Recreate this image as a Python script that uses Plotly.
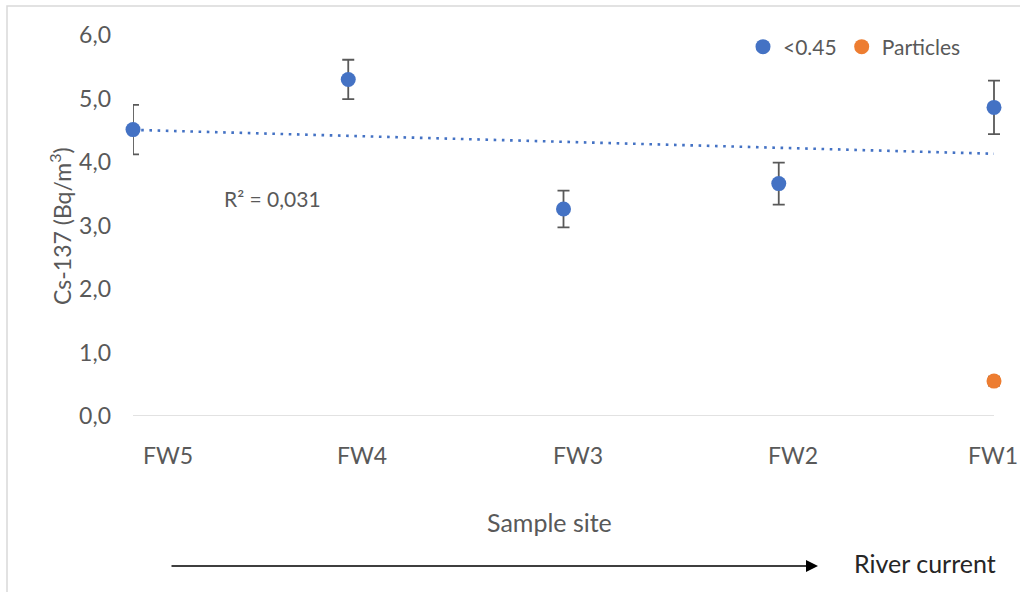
import numpy as np
import plotly.graph_objects as go

# Sampling sites, ordered downstream along the river
sites = ["FW5", "FW4", "FW3", "FW2", "FW1"]

# Cs-137 activity in the <0.45 µm fraction (Bq/m³) and its uncertainty
dissolved = [4.51, 5.30, 3.26, 3.66, 4.86]
dissolved_err = [0.39, 0.31, 0.29, 0.33, 0.42]

# Cs-137 bound to particles, measured at FW1 only
particle_sites = ["FW1"]
particles = [0.55]
particles_err = [0.07]

y_ticks = [0, 1, 2, 3, 4, 5, 6]
y_tick_text = ["0,0", "1,0", "2,0", "3,0", "4,0", "5,0", "6,0"]

BLUE = "#4472C4"
ORANGE = "#ED7D31"
TEXT = "#595959"
FONT = "Lato"

xpos = {s: i for i, s in enumerate(sites)}
x_d = np.array([xpos[s] for s in sites], dtype=float)
x_p = np.array([xpos[s] for s in particle_sites], dtype=float)

# Linear trend of the dissolved fraction and its R²
slope, intercept = np.polyfit(x_d, dissolved, 1)
fit = slope * x_d + intercept
resid = np.array(dissolved) - fit
r2 = 1 - np.sum(resid ** 2) / np.sum((np.array(dissolved) - np.mean(dissolved)) ** 2)
r2_text = f"R² = {r2:.3f}".replace(".", ",")

fig = go.Figure()

# Trend line
fig.add_trace(go.Scatter(
    x=[x_d[0], x_d[-1]], y=[fit[0], fit[-1]], mode="lines",
    line=dict(color=BLUE, width=2.6, dash="2.6px,5.6px"),
    showlegend=False, hoverinfo="skip",
))

# Error bars
err_style = dict(type="data", color=TEXT, thickness=1.8, width=6)
fig.add_trace(go.Scatter(
    x=x_d, y=dissolved, mode="markers", marker=dict(size=1, opacity=0),
    error_y=dict(array=dissolved_err, **err_style),
    showlegend=False, hoverinfo="skip",
))
fig.add_trace(go.Scatter(
    x=x_p, y=particles, mode="markers", marker=dict(size=1, opacity=0),
    error_y=dict(array=particles_err, **err_style),
    showlegend=False, hoverinfo="skip",
))

# Data points
fig.add_trace(go.Scatter(
    x=x_d, y=dissolved, mode="markers", name="<0.45",
    marker=dict(color=BLUE, size=15), cliponaxis=False,
))
fig.add_trace(go.Scatter(
    x=x_p, y=particles, mode="markers", name="Particles",
    marker=dict(color=ORANGE, size=15), cliponaxis=False,
))

L, R, T, B = 133, 20, 35, 176
W, H = 1020, 592
pw, ph = W - L - R, H - T - B
x_max = (len(sites) - 1) * pw / 861.0


def px_x(p):
    return (p - L) / pw


def px_y(p):
    return (H - B - p) / ph


# Category labels sit a little to the right of their site
label_shift = [35, 14, 14, 14, -1]
site_labels = [
    dict(text=s, xref="x", yref="paper", x=xpos[s], y=px_y(455), xshift=dx,
         xanchor="center", yanchor="middle", showarrow=False,
         font=dict(size=23, color=TEXT))
    for s, dx in zip(sites, label_shift)
]

fig.update_layout(
    width=W, height=H,
    margin=dict(l=L, r=R, t=T, b=B, autoexpand=False),
    paper_bgcolor="white", plot_bgcolor="white",
    font=dict(family=FONT, color=TEXT, size=21),
    showlegend=True,
    legend=dict(
        orientation="h", x=px_x(743), y=px_y(47), xanchor="left", yanchor="middle",
        font=dict(size=21, color=TEXT), bgcolor="rgba(0,0,0,0)",
        itemwidth=30, tracegroupgap=0,
    ),
    xaxis=dict(
        range=[0, x_max], tickmode="array",
        tickvals=list(range(len(sites))), ticktext=sites, showticklabels=False,
        showgrid=False, zeroline=False, showline=False, ticks="",
        fixedrange=True,
    ),
    yaxis=dict(
        range=[0, 6], tickmode="array", tickvals=y_ticks, ticktext=y_tick_text,
        showgrid=False, zeroline=False, showline=False, ticks="",
        tickfont=dict(size=23, color=TEXT), ticklabelstandoff=21,
        fixedrange=True,
    ),
    shapes=[
        # horizontal baseline at zero between the first and last site
        dict(type="line", xref="x", yref="y", x0=0, x1=len(sites) - 1, y0=0, y1=0,
             line=dict(color="#D9D9D9", width=1.5), layer="below"),
        # chart frame
        dict(type="rect", xref="paper", yref="paper",
             x0=px_x(7), x1=px_x(1040), y0=px_y(620), y1=px_y(6),
             line=dict(color="#D9D9D9", width=1.5), layer="below"),
    ],
    annotations=site_labels + [
        dict(text="Cs-137 (Bq/m<sup>3</sup>)", xref="paper", yref="paper",
             x=px_x(61), y=px_y(226), xanchor="center", yanchor="middle",
             textangle=-90, showarrow=False, font=dict(size=23, color=TEXT)),
        dict(text=r2_text, xref="paper", yref="paper", x=px_x(222), y=px_y(198),
             xanchor="left", yanchor="middle", showarrow=False,
             font=dict(size=21, color=TEXT)),
        dict(text="Sample site", xref="paper", yref="paper", x=px_x(549), y=px_y(522),
             xanchor="center", yanchor="middle", showarrow=False,
             font=dict(size=25, color=TEXT)),
        dict(text="River current", xref="paper", yref="paper", x=px_x(852), y=px_y(563),
             xanchor="left", yanchor="middle", showarrow=False,
             font=dict(size=25, color="#262626")),
        # river flow direction arrow
        dict(text="", xref="paper", yref="paper", x=px_x(818), y=px_y(566),
             ax=-648, ay=0, showarrow=True, arrowhead=2, arrowsize=1.5,
             arrowwidth=1.6, arrowcolor="black"),
    ],
)

fig.write_html("out.html")
